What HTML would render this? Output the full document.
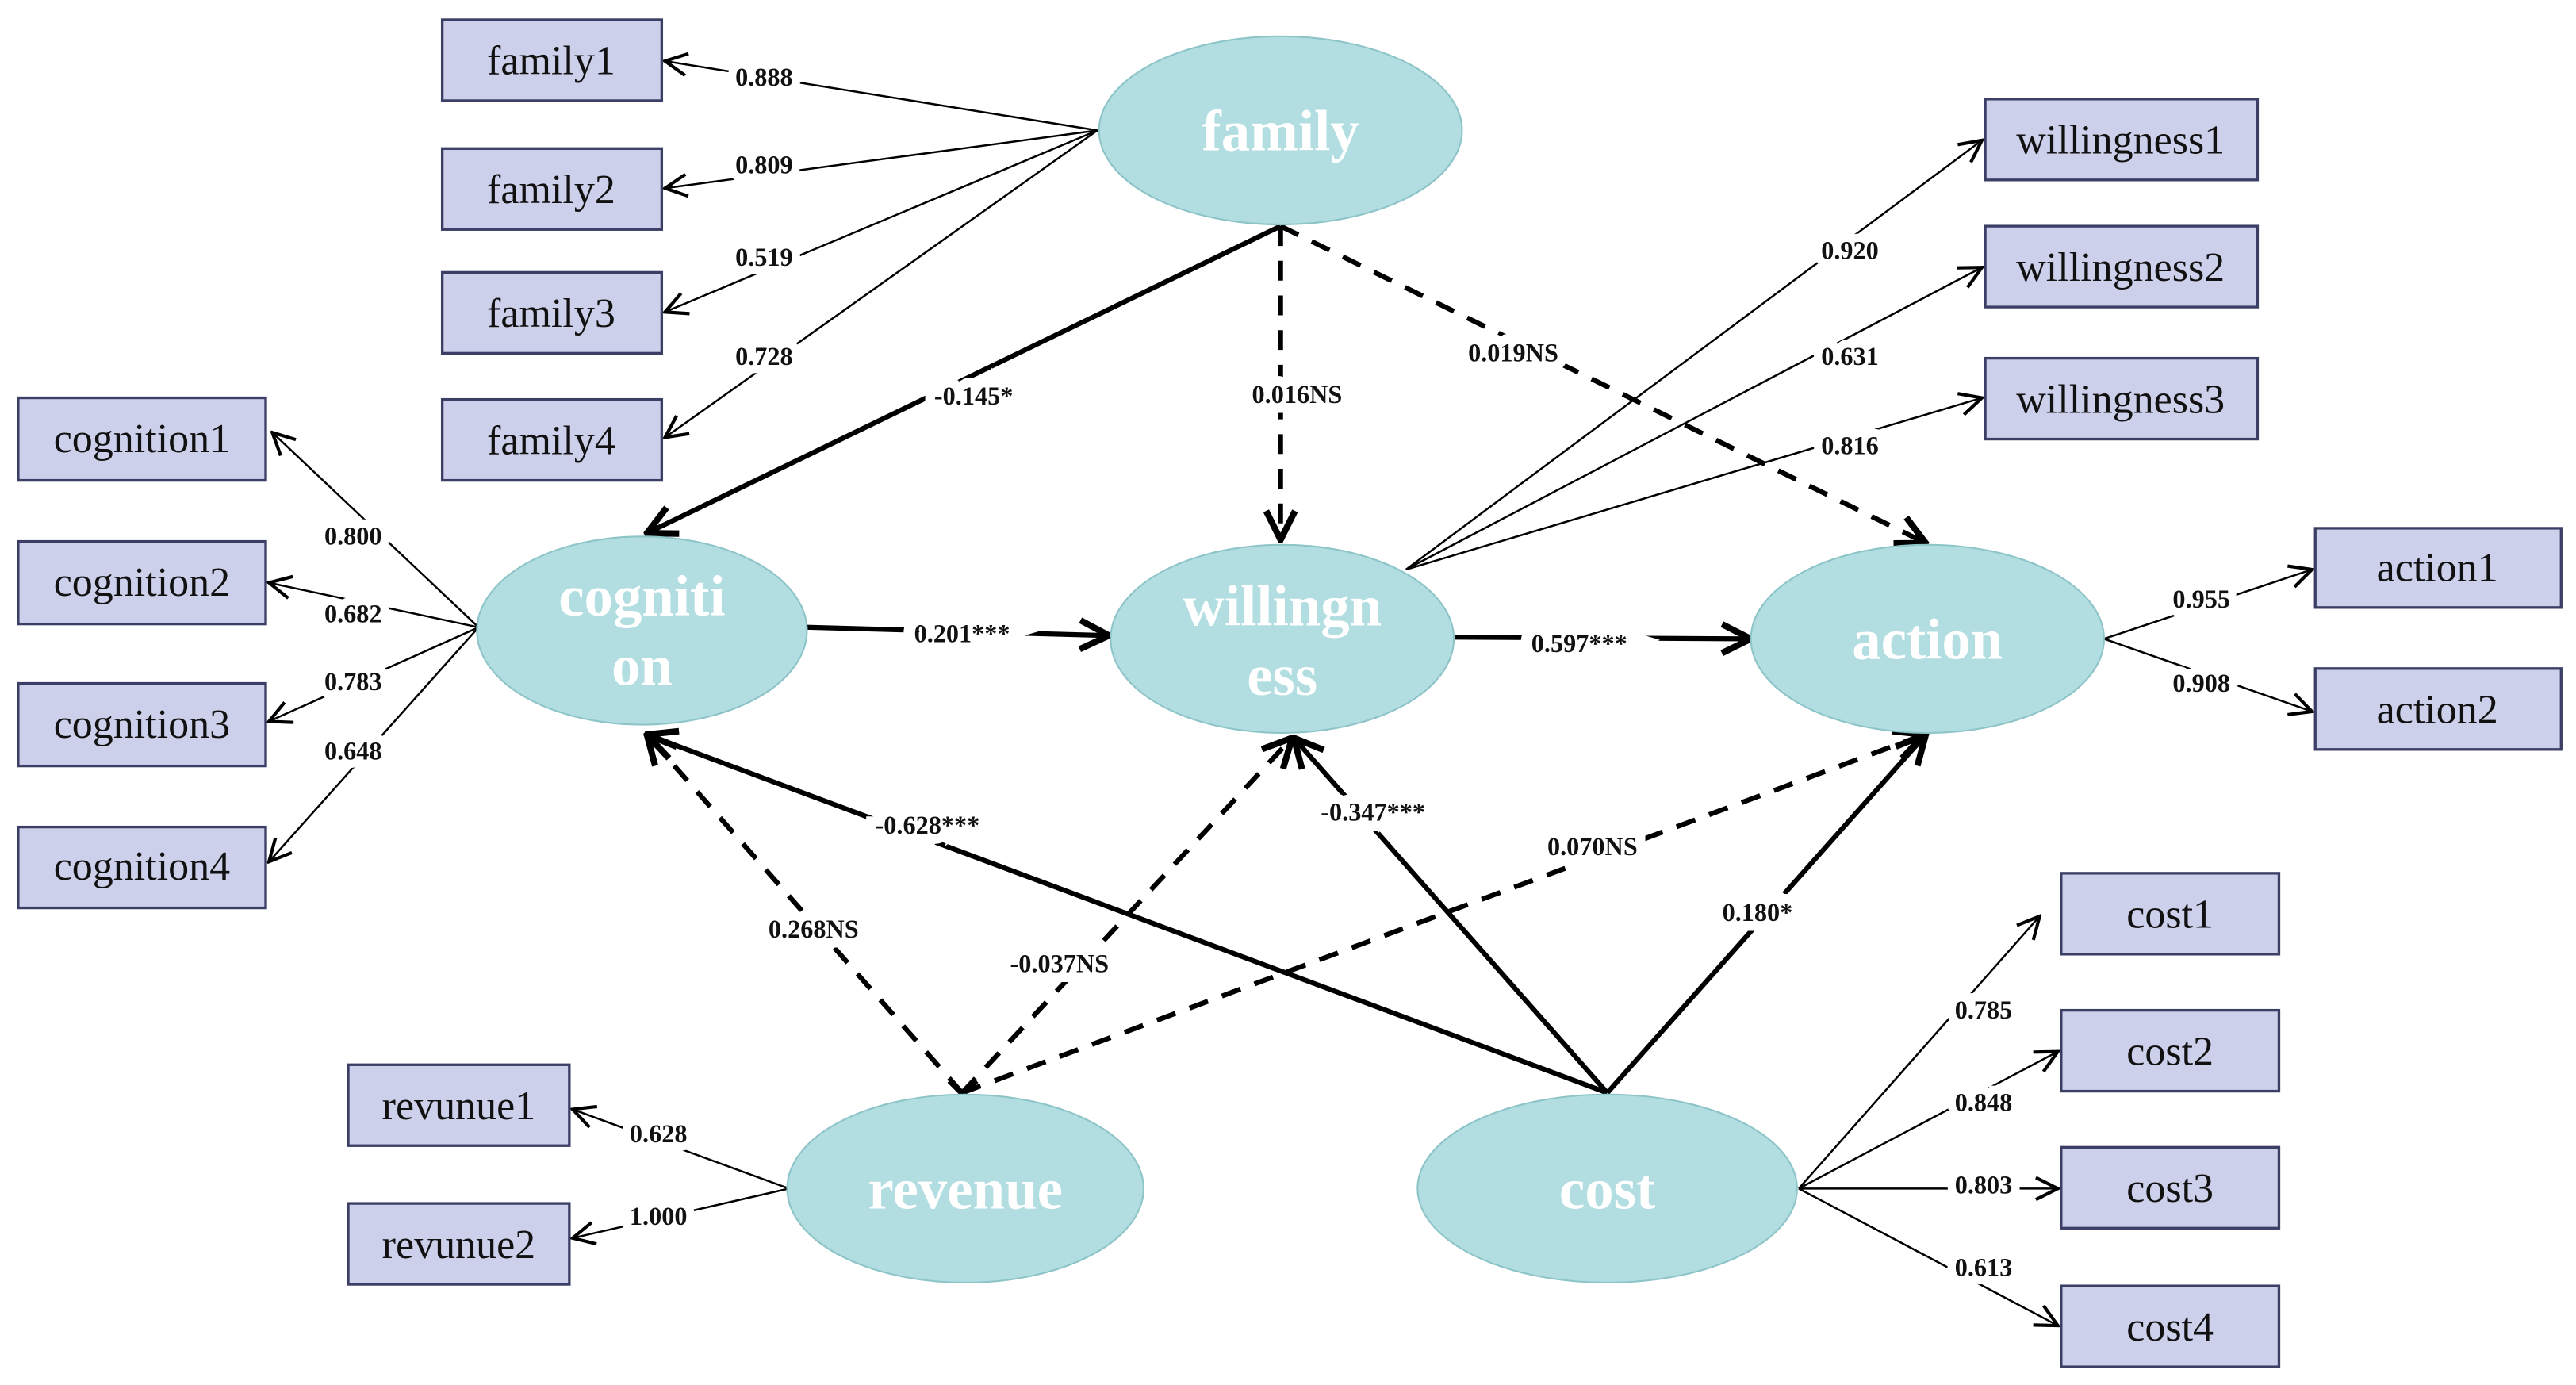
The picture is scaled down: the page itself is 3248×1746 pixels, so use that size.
<!DOCTYPE html>
<html><head><meta charset="utf-8"><style>
html,body{margin:0;padding:0;background:#fff;}
svg{display:block;}
.bx{fill:#cdd0ea;stroke:#3b3f66;stroke-width:1.6;}
.bt{font-family:"Liberation Serif",serif;font-size:25px;fill:#111;text-anchor:middle;}
.el{fill:#b2dde1;stroke:#8cc4c8;stroke-width:1;}
.et{font-family:"Liberation Serif",serif;font-size:35px;font-weight:bold;fill:#fff;text-anchor:middle;}
.lb{font-family:"Liberation Serif",serif;font-size:15.5px;font-weight:bold;fill:#111;text-anchor:middle;}
.th{stroke:#000;stroke-width:1.2;fill:none;}
.tk{stroke:#000;stroke-width:3;fill:none;}
.ds{stroke:#000;stroke-width:3;fill:none;stroke-dasharray:12 9;}
</style></head><body>
<svg width="3248" height="1746" viewBox="0 0 1561 839" preserveAspectRatio="none" xmlns="http://www.w3.org/2000/svg">
<defs>
<marker id="a" viewBox="0 0 12 12" refX="11" refY="6" markerWidth="16" markerHeight="16" markerUnits="userSpaceOnUse" orient="auto"><path d="M1,1 L11,6 L1,11" fill="none" stroke="#000" stroke-width="1.5"/></marker>
<marker id="b" viewBox="0 0 12 12" refX="11" refY="6" markerWidth="7" markerHeight="7" orient="auto"><path d="M1,1 L11,6 L1,11" fill="none" stroke="#000" stroke-width="2.2"/></marker>
</defs>
<g class="th" marker-end="url(#a)">
<line x1="665" y1="79" x2="403" y2="37"/>
<line x1="665" y1="79" x2="403" y2="114"/>
<line x1="665" y1="79" x2="403" y2="189"/>
<line x1="665" y1="79" x2="403" y2="265"/>
<line x1="290" y1="380" x2="165" y2="262"/>
<line x1="290" y1="380" x2="163" y2="353"/>
<line x1="290" y1="380" x2="163" y2="437"/>
<line x1="290" y1="380" x2="163" y2="522"/>
<line x1="852" y1="345" x2="1201" y2="85"/>
<line x1="852" y1="345" x2="1201" y2="162"/>
<line x1="852" y1="345" x2="1201" y2="241"/>
<line x1="1275" y1="387" x2="1401" y2="345"/>
<line x1="1275" y1="387" x2="1401" y2="431"/>
<line x1="1090" y1="720" x2="1236" y2="555"/>
<line x1="1090" y1="720" x2="1247" y2="637"/>
<line x1="1090" y1="720" x2="1247" y2="720"/>
<line x1="1090" y1="720" x2="1247" y2="803"/>
<line x1="478" y1="720" x2="347" y2="672"/>
<line x1="478" y1="720" x2="347" y2="750"/>
</g>
<g marker-end="url(#b)">
<line class="tk" x1="776" y1="137" x2="392" y2="323"/>
<line class="ds" x1="776" y1="137" x2="776" y2="327"/>
<line class="ds" x1="776" y1="137" x2="1167" y2="329"/>
<line class="tk" x1="489" y1="380" x2="672" y2="385"/>
<line class="tk" x1="881" y1="386" x2="1061" y2="387"/>
<line class="tk" x1="974" y1="662" x2="392" y2="445"/>
<line class="tk" x1="974" y1="662" x2="784" y2="447"/>
<line class="tk" x1="974" y1="662" x2="1167" y2="445"/>
<line class="ds" x1="583" y1="662" x2="392" y2="445"/>
<line class="ds" x1="583" y1="662" x2="783" y2="447"/>
<line class="ds" x1="583" y1="662" x2="1166" y2="445"/>
</g>
<path d="M575,655 L583,663 L592,655" fill="none" stroke="#000" stroke-width="2.5"/>
<g class="lb" stroke="#fff" paint-order="stroke">
<text x="463" y="52" stroke-width="10">0.888</text>
<text x="463" y="105" stroke-width="10">0.809</text>
<text x="463" y="161" stroke-width="10">0.519</text>
<text x="463" y="221" stroke-width="10">0.728</text>
<text x="214" y="330" stroke-width="10">0.800</text>
<text x="214" y="377" stroke-width="10">0.682</text>
<text x="214" y="418" stroke-width="10">0.783</text>
<text x="214" y="460" stroke-width="10">0.648</text>
<text x="1121" y="157" stroke-width="10">0.920</text>
<text x="1121" y="221" stroke-width="10">0.631</text>
<text x="1121" y="275" stroke-width="10">0.816</text>
<text x="1334" y="368" stroke-width="10">0.955</text>
<text x="1334" y="419" stroke-width="10">0.908</text>
<text x="1202" y="617" stroke-width="10">0.785</text>
<text x="1202" y="673" stroke-width="10">0.848</text>
<text x="1202" y="723" stroke-width="10">0.803</text>
<text x="1202" y="773" stroke-width="10">0.613</text>
<text x="399" y="692" stroke-width="10">0.628</text>
<text x="399" y="742" stroke-width="10">1.000</text>
<text x="590" y="245" stroke-width="12">-0.145*</text>
<text x="786" y="244" stroke-width="12">0.016NS</text>
<text x="917" y="219" stroke-width="12">0.019NS</text>
<text x="583" y="389" stroke-width="14">0.201***</text>
<text x="957" y="395" stroke-width="14">0.597***</text>
<text x="562" y="505" stroke-width="12">-0.628***</text>
<text x="832" y="497" stroke-width="12">-0.347***</text>
<text x="1065" y="558" stroke-width="12">0.180*</text>
<text x="493" y="568" stroke-width="12">0.268NS</text>
<text x="642" y="589" stroke-width="12">-0.037NS</text>
<text x="965" y="518" stroke-width="12">0.070NS</text>
</g>
<rect class="bx" x="268" y="12" width="133" height="49"/><text class="bt" x="334" y="45">family1</text>
<rect class="bx" x="268" y="90" width="133" height="49"/><text class="bt" x="334" y="123">family2</text>
<rect class="bx" x="268" y="165" width="133" height="49"/><text class="bt" x="334" y="198">family3</text>
<rect class="bx" x="268" y="242" width="133" height="49"/><text class="bt" x="334" y="275">family4</text>
<rect class="bx" x="11" y="241" width="150" height="50"/><text class="bt" x="86" y="274">cognition1</text>
<rect class="bx" x="11" y="328" width="150" height="50"/><text class="bt" x="86" y="361">cognition2</text>
<rect class="bx" x="11" y="414" width="150" height="50"/><text class="bt" x="86" y="447">cognition3</text>
<rect class="bx" x="11" y="501" width="150" height="49"/><text class="bt" x="86" y="533">cognition4</text>
<rect class="bx" x="1203" y="60" width="165" height="49"/><text class="bt" x="1285" y="93">willingness1</text>
<rect class="bx" x="1203" y="137" width="165" height="49"/><text class="bt" x="1285" y="170">willingness2</text>
<rect class="bx" x="1203" y="217" width="165" height="49"/><text class="bt" x="1285" y="250">willingness3</text>
<rect class="bx" x="1403" y="320" width="149" height="48"/><text class="bt" x="1477" y="352">action1</text>
<rect class="bx" x="1403" y="405" width="149" height="49"/><text class="bt" x="1477" y="438">action2</text>
<rect class="bx" x="1249" y="529" width="132" height="49"/><text class="bt" x="1315" y="562">cost1</text>
<rect class="bx" x="1249" y="612" width="132" height="49"/><text class="bt" x="1315" y="645">cost2</text>
<rect class="bx" x="1249" y="695" width="132" height="49"/><text class="bt" x="1315" y="728">cost3</text>
<rect class="bx" x="1249" y="779" width="132" height="49"/><text class="bt" x="1315" y="812">cost4</text>
<rect class="bx" x="211" y="645" width="134" height="49"/><text class="bt" x="278" y="678">revunue1</text>
<rect class="bx" x="211" y="729" width="134" height="49"/><text class="bt" x="278" y="762">revunue2</text>
<ellipse class="el" cx="776" cy="79" rx="110" ry="57"/><text class="et" x="776" y="91">family</text>
<ellipse class="el" cx="389" cy="382" rx="100" ry="57"/><text class="et" x="389" y="373">cogniti</text><text class="et" x="389" y="415">on</text>
<ellipse class="el" cx="777" cy="387" rx="104" ry="57"/><text class="et" x="777" y="379">willingn</text><text class="et" x="777" y="421">ess</text>
<ellipse class="el" cx="1168" cy="387" rx="107" ry="57"/><text class="et" x="1168" y="399">action</text>
<ellipse class="el" cx="585" cy="720" rx="108" ry="57"/><text class="et" x="585" y="732">revenue</text>
<ellipse class="el" cx="974" cy="720" rx="115" ry="57"/><text class="et" x="974" y="732">cost</text>
</svg>
</body></html>
